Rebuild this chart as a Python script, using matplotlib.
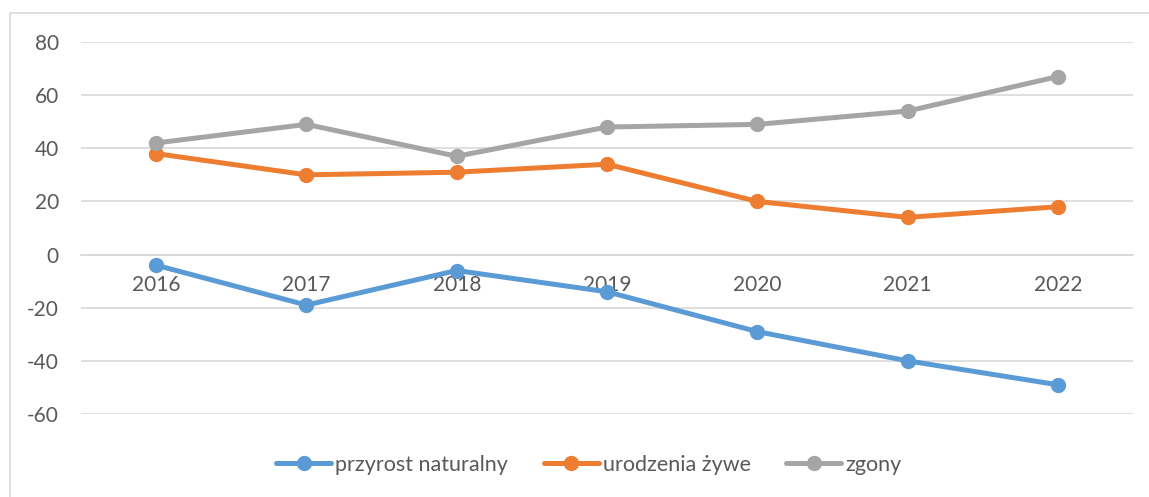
import matplotlib
matplotlib.use("Agg")
import matplotlib.pyplot as plt
from matplotlib.patches import Rectangle

years = ["2016", "2017", "2018", "2019", "2020", "2021", "2022"]
przyrost = [-4, -19, -6, -14, -29, -40, -49]
urodzenia = [38, 30, 31, 34, 20, 14, 18]
zgony = [42, 49, 37, 48, 49, 54, 67]
series_names = ["przyrost naturalny", "urodzenia żywe", "zgony"]
colors = ["#5B9BD5", "#ED7D31", "#A5A5A5"]
yticks = [-60, -40, -20, 0, 20, 40, 60, 80]

plt.rcParams['font.family'] = ['Lato', 'DejaVu Sans']
W, H = 1149, 497
fig = plt.figure(figsize=(W / 100, H / 100), dpi=100)
fig.patch.set_facecolor("white")

# chart border (partially cropped)
fig.patches.append(Rectangle((10 / W, -0.05), 1.2, (H - 13) / H + 0.05,
                             transform=fig.transFigure, fill=False,
                             edgecolor="#D9D9D9", linewidth=1.2, zorder=0))

ax = fig.add_axes([81 / W, (H - 414) / H, 1052 / W, 372 / H])
ax.set_axisbelow(True)
x = list(range(len(years)))
for vals, name, c in zip([przyrost, urodzenia, zgony], series_names, colors):
    ax.plot(x, vals, color=c, linewidth=3.6, marker="o", markersize=10,
            label=name, clip_on=False, solid_capstyle="round")

ax.set_xlim(-0.5, len(years) - 0.5)
ax.set_ylim(-60, 80)
ax.set_yticks(yticks)
ax.set_yticklabels([str(v) for v in yticks])
ax.set_xticks(x)
ax.set_xticklabels(years)
ax.grid(axis="y", color="#D9D9D9", linewidth=1.2)
for s in ["top", "right", "left"]:
    ax.spines[s].set_visible(False)
ax.spines["bottom"].set_position(("data", 0))
ax.spines["bottom"].set_color("#D9D9D9")
ax.spines["bottom"].set_linewidth(1.2)
ax.tick_params(axis="y", length=0, pad=16, labelsize=15, labelcolor="#595959")
ax.tick_params(axis="x", length=0, pad=15, labelsize=15, labelcolor="#595959")

leg = fig.legend(loc="center", bbox_to_anchor=(589 / W, (H - 465) / H),
                 ncol=3, frameon=False, fontsize=15.5, handlelength=2.55,
                 handletextpad=0.2, columnspacing=1.65)
for t in leg.get_texts():
    t.set_color("#595959")

fig.savefig("out.png", dpi=100, facecolor="white")
